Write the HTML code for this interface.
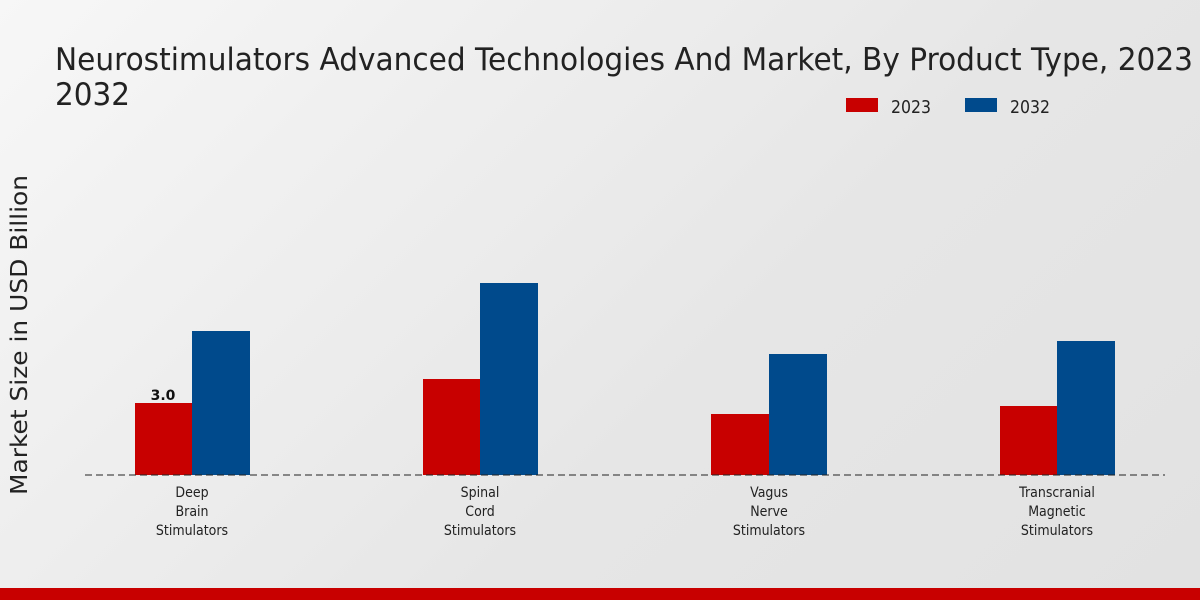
<!DOCTYPE html>
<html><head><meta charset="utf-8"><style>
html,body{margin:0;padding:0;width:1200px;height:600px;overflow:hidden}
body{background:linear-gradient(135deg,#f7f7f7 0%,#e6e6e6 60%,#e2e2e2 100%)}
svg text{font-family:"DejaVu Sans","Liberation Sans",sans-serif}
</style></head><body>
<svg width="1200" height="600" viewBox="0 0 1200 600" xmlns="http://www.w3.org/2000/svg">
<text x="55" y="70" font-size="31" fill="#222" textLength="1138" lengthAdjust="spacingAndGlyphs">Neurostimulators Advanced Technologies And Market, By Product Type, 2023</text>
<text x="55" y="105" font-size="31" fill="#222" textLength="75" lengthAdjust="spacingAndGlyphs">2032</text>
<rect x="846" y="98" width="32" height="14" fill="#c80000"/>
<text x="891" y="113" font-size="18" fill="#222" textLength="40" lengthAdjust="spacingAndGlyphs">2023</text>
<rect x="965" y="98" width="32" height="14" fill="#004a8c"/>
<text x="1010" y="113" font-size="18" fill="#222" textLength="40" lengthAdjust="spacingAndGlyphs">2032</text>
<text transform="translate(27,335) rotate(-90)" text-anchor="middle" font-size="23" fill="#222" textLength="320" lengthAdjust="spacingAndGlyphs">Market Size in USD Billion</text>
<rect x="135" y="403" width="57" height="72" fill="#c80000"/>
<rect x="192" y="331" width="58" height="144" fill="#004a8c"/>
<rect x="423" y="379" width="57" height="96" fill="#c80000"/>
<rect x="480" y="283" width="58" height="192" fill="#004a8c"/>
<rect x="711" y="414" width="58" height="61" fill="#c80000"/>
<rect x="769" y="354" width="58" height="121" fill="#004a8c"/>
<rect x="1000" y="406" width="57" height="69" fill="#c80000"/>
<rect x="1057" y="341" width="58" height="134" fill="#004a8c"/>
<line x1="85" y1="475" x2="1165" y2="475" stroke="#222" stroke-width="1" stroke-dasharray="7,4"/>
<text x="163" y="400" text-anchor="middle" font-size="14" font-weight="bold" fill="#111">3.0</text>
<g font-size="14" fill="#222" text-anchor="middle">
<g transform="translate(192,0) scale(0.9,1)"><text x="0" y="497">Deep</text><text x="0" y="516">Brain</text><text x="0" y="535">Stimulators</text></g>
<g transform="translate(480,0) scale(0.9,1)"><text x="0" y="497">Spinal</text><text x="0" y="516">Cord</text><text x="0" y="535">Stimulators</text></g>
<g transform="translate(769,0) scale(0.9,1)"><text x="0" y="497">Vagus</text><text x="0" y="516">Nerve</text><text x="0" y="535">Stimulators</text></g>
<g transform="translate(1057,0) scale(0.9,1)"><text x="0" y="497">Transcranial</text><text x="0" y="516">Magnetic</text><text x="0" y="535">Stimulators</text></g>
</g>
<rect x="0" y="588" width="1200" height="12" fill="#c80000"/>
</svg>
</body></html>
